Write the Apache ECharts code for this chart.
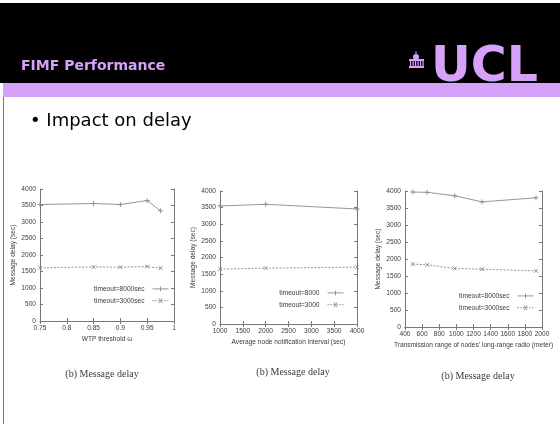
<!DOCTYPE html>
<html><head><meta charset="utf-8">
<script src="https://cdn.jsdelivr.net/npm/echarts@6/dist/echarts.min.js"></script>
<style>html,body{margin:0;padding:0;background:#fff}#c{width:560px;height:424px}</style>
</head><body><div id="c"></div>
<script>
// ---- data ----
var yTicks = [0, 500, 1000, 1500, 2000, 2500, 3000, 3500, 4000];

var c1X = [0.75, 0.85, 0.9, 0.95, 0.975];
var c1S8000 = [3530, 3560, 3530, 3650, 3340];
var c1S3000 = [1610, 1640, 1630, 1650, 1600];
var c1Names = ['timeout=8000sec', 'timeout=3000sec'];

var c2X = [1000, 2000, 4000];
var c2S8000 = [3550, 3600, 3460];
var c2S3000 = [1650, 1680, 1710];
var c2Names = ['timeout=8000', 'timeout=3000'];

var c3X = [490, 660, 980, 1300, 1930];
var c3S8000 = [3970, 3960, 3860, 3680, 3800];
var c3S3000 = [1850, 1830, 1720, 1700, 1650];
var c3Names = ['timeout=8000sec', 'timeout=3000sec'];

var xNames = ['WTP threshold \u03c9', 'Average node notification interval (sec)', 'Transmission range of nodes\u2019 long-range radio (meter)'];
var yName = 'Message delay (sec)';
var caption = '(b) Message delay';

// ---- styling ----
var AX = '#777', TXT = '#3a3a3a', LN = '#8a8a8a';
var F = 'Liberation Sans';
var FS = 6.6;
var plusSym = 'path://M0,5L10,5M5,0L5,10';
var crossSym = 'path://M0,0L10,10M10,0L0,10';
var legPlus = 'path://M0,5L20,5M10,2L10,8';
var legCross = 'path://M0,5L2,5M3.5,5L5.5,5M7,5L9,5M11,5L13,5M14.5,5L16.5,5M18,5L20,5M8,2L12,8M12,2L8,8';

var grids = [
  {left: 40, top: 189, width: 134, height: 132},
  {left: 220, top: 191, width: 137, height: 133},
  {left: 405, top: 191, width: 137, height: 136}
];
var xCfg = [
  {min: 0.75, max: 1, interval: 0.05, fmt: function(v){ return (Math.round(v*1000)/1000).toString(); }},
  {min: 1000, max: 4000, interval: 500, fmt: function(v){ return String(v); }},
  {min: 400, max: 2000, interval: 200, fmt: function(v){ return String(v); }}
];
var datasets = [[c1X, c1S8000, c1S3000, c1Names], [c2X, c2S8000, c2S3000, c2Names], [c3X, c3S8000, c3S3000, c3Names]];
var legendPos = [
  {right: 560 - 171, top: 284},
  {right: 560 - 346, top: 288},
  {right: 560 - 536, top: 291}
];

var xAxes = [], yAxes = [], series = [], legends = [], titles = [];
for (var i = 0; i < 3; i++) {
  var line = {show: true, lineStyle: {color: AX, width: 1}};
  var tick = {show: true, inside: true, length: 3, lineStyle: {color: AX, width: 1}};
  xAxes.push({gridIndex: i, type: 'value', position: 'bottom', min: xCfg[i].min, max: xCfg[i].max, interval: xCfg[i].interval,
    axisLine: line, axisTick: tick, splitLine: {show: false},
    axisLabel: {color: TXT, fontFamily: F, fontSize: FS, margin: 4, formatter: xCfg[i].fmt, showMinLabel: true, showMaxLabel: true, hideOverlap: false},
    name: xNames[i], nameLocation: 'middle', nameGap: 15, nameTextStyle: {color: TXT, fontFamily: F, fontSize: FS}});
  xAxes.push({gridIndex: i, type: 'value', position: 'top', min: xCfg[i].min, max: xCfg[i].max, interval: xCfg[i].interval,
    axisLine: line, axisTick: tick, splitLine: {show: false}, axisLabel: {show: false}});
  yAxes.push({gridIndex: i, type: 'value', position: 'left', min: 0, max: 4000, interval: 500,
    axisLine: line, axisTick: tick, splitLine: {show: false},
    axisLabel: {color: TXT, fontFamily: F, fontSize: FS, margin: 4, formatter: function(v){ return String(v); }},
    name: yName, nameLocation: 'middle', nameGap: 23, nameRotate: 90, nameTextStyle: {color: TXT, fontFamily: F, fontSize: FS}});
  yAxes.push({gridIndex: i, type: 'value', position: 'right', min: 0, max: 4000, interval: 500,
    axisLine: line, axisTick: tick, splitLine: {show: false}, axisLabel: {show: false}});
  var d = datasets[i];
  var s8 = [], s3 = [];
  for (var k = 0; k < d[0].length; k++) { s8.push([d[0][k], d[1][k]]); s3.push([d[0][k], d[2][k]]); }
  series.push({type: 'line', name: d[3][0], xAxisIndex: 2*i, yAxisIndex: 2*i, data: s8, symbol: plusSym, symbolSize: 5,
    showAllSymbol: true, lineStyle: {color: LN, width: 0.9}, itemStyle: {color: LN, borderColor: LN, borderWidth: 0.9}, animation: false, silent: true});
  series.push({type: 'line', name: d[3][1], xAxisIndex: 2*i, yAxisIndex: 2*i, data: s3, symbol: crossSym, symbolSize: 4,
    showAllSymbol: true, lineStyle: {color: LN, width: 0.9, type: [2, 1.5]}, itemStyle: {color: LN, borderColor: LN, borderWidth: 0.9}, animation: false, silent: true});
  legends.push({
    data: [
      {name: d[3][0], icon: legPlus, itemStyle: {color: 'none', borderColor: LN, borderWidth: 0.9}},
      {name: d[3][1], icon: legCross, itemStyle: {color: 'none', borderColor: LN, borderWidth: 0.9}}
    ],
    orient: 'vertical', align: 'right', right: legendPos[i].right, top: legendPos[i].top,
    itemWidth: 16, itemHeight: 5, itemGap: 2, padding: 0, selectedMode: false,
    textStyle: {color: TXT, fontFamily: F, fontSize: FS, padding: [0, 3, 0, 0]}});
}
var capStyle = {fontFamily: 'Liberation Serif', fontWeight: 'normal', fontSize: 10, color: TXT};
titles.push({text: caption, left: 97, top: 364, textAlign: 'center', textStyle: capStyle});
titles.push({text: caption, left: 288, top: 362, textAlign: 'center', textStyle: capStyle});
titles.push({text: caption, left: 473, top: 366, textAlign: 'center', textStyle: capStyle});

var PURPLE = '#d6a2f9';
var graphic = [
  {type: 'rect', shape: {x: 0, y: 3, width: 560, height: 80}, style: {fill: '#000'}},
  {type: 'rect', shape: {x: 3, y: 83, width: 557, height: 14}, style: {fill: PURPLE}},
  {type: 'line', shape: {x1: 3.5, y1: 97, x2: 3.5, y2: 424}, style: {stroke: '#777', lineWidth: 1}},
  {type: 'text', x: 21, y: 73, style: {text: 'FIMF Performance', fill: PURPLE, font: 'bold 14px "DejaVu Sans"', textVerticalAlign: 'bottom'}},
  {type: 'text', x: 431, y: 93, style: {text: 'UCL', fill: PURPLE, font: 'bold 49px "DejaVu Sans"', textVerticalAlign: 'bottom'}},
  // portico icon
  {type: 'circle', shape: {cx: 416, cy: 57, r: 3}, style: {fill: PURPLE}},
  {type: 'rect', shape: {x: 415.5, y: 51, width: 1, height: 3}, style: {fill: PURPLE}},
  {type: 'rect', shape: {x: 409, y: 59, width: 15, height: 2}, style: {fill: PURPLE}},
  {type: 'rect', shape: {x: 410, y: 61, width: 1.2, height: 5}, style: {fill: PURPLE}},
  {type: 'rect', shape: {x: 412.5, y: 61, width: 1.2, height: 5}, style: {fill: PURPLE}},
  {type: 'rect', shape: {x: 415, y: 61, width: 1.2, height: 5}, style: {fill: PURPLE}},
  {type: 'rect', shape: {x: 417.5, y: 61, width: 1.2, height: 5}, style: {fill: PURPLE}},
  {type: 'rect', shape: {x: 420, y: 61, width: 1.2, height: 5}, style: {fill: PURPLE}},
  {type: 'rect', shape: {x: 422.5, y: 61, width: 1.2, height: 5}, style: {fill: PURPLE}},
  {type: 'rect', shape: {x: 409, y: 66, width: 15, height: 2}, style: {fill: PURPLE}},
  {type: 'text', x: 30, y: 121, style: {text: '\u2022 Impact on delay', fill: '#000', font: '18px "DejaVu Sans"', textVerticalAlign: 'middle'}}
];

var chart = echarts.init(document.getElementById('c'), null, {renderer: 'canvas'});
chart.setOption({
  animation: false,
  backgroundColor: '#fff',
  grid: grids,
  xAxis: xAxes,
  yAxis: yAxes,
  series: series,
  legend: legends,
  title: titles,
  graphic: graphic
});
</script></body></html>
